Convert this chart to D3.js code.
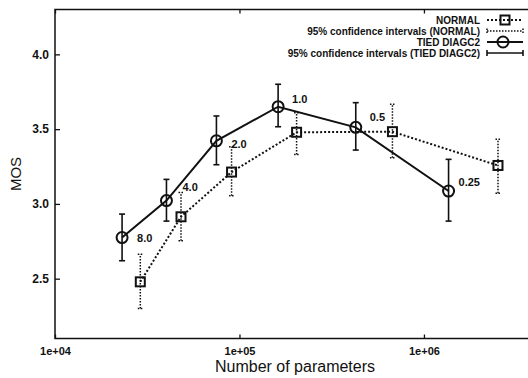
<!DOCTYPE html>
<html>
<head>
<meta charset="utf-8">
<script src="https://cdn.jsdelivr.net/npm/d3@7"></script>
<style>
  html, body { margin: 0; padding: 0; background: #fff; }
  svg { display: block; font-family: "Liberation Sans", Arial, sans-serif; }
</style>
</head>
<body>
<div id="chart"></div>
<script>
// data
const tiedX    = [2.31e4, 4.02e4, 7.5e4, 1.62e5, 4.27e5, 1.36e6];
const tiedMos  = [2.775, 3.022, 3.422, 3.650, 3.512, 3.086];
const tiedLow  = [2.620, 2.885, 3.262, 3.516, 3.360, 2.885];
const tiedHigh = [2.932, 3.164, 3.588, 3.800, 3.677, 3.298];

const normalX    = [2.90e4, 4.82e4, 9.06e4, 2.04e5, 6.75e5, 2.52e6];
const normalMos  = [2.479, 2.914, 3.213, 3.479, 3.483, 3.257];
const normalLow  = [2.300, 2.753, 3.055, 3.331, 3.309, 3.071];
const normalHigh = [2.663, 3.077, 3.382, 3.610, 3.666, 3.432];

const pointLabels = ["8.0", "4.0", "2.0", "1.0", "0.5", "0.25"];

const xTicks = [1e4, 1e5, 1e6];
const xTickLabels = ["1e+04", "1e+05", "1e+06"];
const yTicks = [2.5, 3.0, 3.5, 4.0];

const legendLabels = [
  "NORMAL",
  "95% confidence intervals (NORMAL)",
  "TIED DIAGC2",
  "95% confidence intervals (TIED DIAGC2)"
];

// label nudges in px, relative to the TIED point
const labelNudge = [[15, 4], [16, -10], [15, 7], [14, -4], [14, -6], [10, -5]];

const W = 528, H = 378;
const ink = "#111";

const svg = d3.select("#chart").append("svg")
  .attr("width", W)
  .attr("height", H);

// plot extends past the right edge of the picture (cropped like the scan)
const x = d3.scaleLog().domain([1e4, 4e6]).range([55, 535]);
const y = d3.scaleLinear().domain([2.1, 4.3]).range([338.5, 9.5]);

const zip = (xs, ms, lo, hi) => xs.map((v, i) => ({ x: v, m: ms[i], lo: lo[i], hi: hi[i], i }));
const tied = zip(tiedX, tiedMos, tiedLow, tiedHigh);
const normal = zip(normalX, normalMos, normalLow, normalHigh);

// axes
const yAxis = d3.axisLeft(y).tickValues(yTicks).tickFormat(d3.format(".1f"))
  .tickSizeInner(-5).tickSizeOuter(0).tickPadding(6);
const xAxis = d3.axisBottom(x).tickValues(xTicks).tickFormat((d, i) => xTickLabels[i])
  .tickSizeInner(-4).tickSizeOuter(0).tickPadding(9);
const xTop = d3.axisTop(x).tickValues(xTicks).tickFormat("")
  .tickSizeInner(-4).tickSizeOuter(0);

const gy = svg.append("g").attr("transform", `translate(${x.range()[0]},0)`).call(yAxis);
const gx = svg.append("g").attr("transform", `translate(0,${y.range()[0]})`).call(xAxis);
const gt = svg.append("g").attr("transform", `translate(0,${y.range()[1]})`).call(xTop);

[gy, gx, gt].forEach(g => {
  g.select(".domain").remove();
  g.selectAll(".tick line").attr("stroke", ink).attr("stroke-width", 1.3);
  g.selectAll(".tick text")
    .attr("fill", ink)
    .attr("font-size", "11px")
    .attr("font-weight", "bold")
    .attr("font-family", "'Liberation Sans', Arial, sans-serif");
});
gy.selectAll(".tick text").attr("font-size", "12px");

// frame
svg.append("rect")
  .attr("x", x.range()[0])
  .attr("y", y.range()[1])
  .attr("width", x.range()[1] - x.range()[0])
  .attr("height", y.range()[0] - y.range()[1])
  .attr("fill", "none")
  .attr("stroke", ink)
  .attr("stroke-width", 1.5);

// axis titles
svg.append("text")
  .attr("x", 295)
  .attr("y", 372)
  .attr("text-anchor", "middle")
  .attr("font-size", "16px")
  .attr("fill", ink)
  .text("Number of parameters");

svg.append("text")
  .attr("transform", `translate(21,${(y.range()[0] + y.range()[1]) / 2}) rotate(-90)`)
  .attr("text-anchor", "middle")
  .attr("font-size", "15px")
  .attr("fill", ink)
  .text("MOS");

const line = d3.line().x(d => x(d.x)).y(d => y(d.m));

// NORMAL: dotted line
svg.append("path")
  .datum(normal)
  .attr("d", line)
  .attr("fill", "none")
  .attr("stroke", ink)
  .attr("stroke-width", 2)
  .attr("stroke-dasharray", "2,2");

// TIED DIAGC2: solid line
svg.append("path")
  .datum(tied)
  .attr("d", line)
  .attr("fill", "none")
  .attr("stroke", ink)
  .attr("stroke-width", 2);

// error bars
const errorBars = (data, cap, dash, width) => {
  const g = svg.append("g")
    .attr("stroke", ink)
    .attr("stroke-width", width)
    .attr("stroke-dasharray", dash);
  g.selectAll("line.v").data(data).join("line")
    .attr("class", "v")
    .attr("x1", d => x(d.x)).attr("x2", d => x(d.x))
    .attr("y1", d => y(d.lo)).attr("y2", d => y(d.hi));
  ["lo", "hi"].forEach(k => {
    g.selectAll(`line.${k}`).data(data).join("line")
      .attr("class", k)
      .attr("x1", d => x(d.x) - cap).attr("x2", d => x(d.x) + cap)
      .attr("y1", d => y(d[k])).attr("y2", d => y(d[k]));
  });
};
errorBars(normal, 2.5, "1.5,1.5", 1.5);
errorBars(tied, 3, null, 1.6);

// markers
svg.append("g").selectAll("rect").data(normal).join("rect")
  .attr("x", d => x(d.x) - 4.5)
  .attr("y", d => y(d.m) - 4.5)
  .attr("width", 9)
  .attr("height", 9)
  .attr("fill", "none")
  .attr("stroke", ink)
  .attr("stroke-width", 2);

svg.append("g").selectAll("circle").data(tied).join("circle")
  .attr("cx", d => x(d.x))
  .attr("cy", d => y(d.m))
  .attr("r", 5.5)
  .attr("fill", "none")
  .attr("stroke", ink)
  .attr("stroke-width", 2);

// point labels
svg.append("g").selectAll("text").data(tied).join("text")
  .attr("x", d => x(d.x) + labelNudge[d.i][0])
  .attr("y", d => y(d.m) + labelNudge[d.i][1])
  .attr("font-size", "11px")
  .attr("font-weight", "bold")
  .attr("fill", ink)
  .text(d => pointLabels[d.i]);

// legend
const lg = svg.append("g");
const lx0 = 487, lx1 = 523, lxm = 505, rowY = i => 20 + i * 11;
lg.selectAll("text").data(legendLabels).join("text")
  .attr("x", 480)
  .attr("y", (d, i) => rowY(i) + 3.5)
  .attr("text-anchor", "end")
  .attr("font-size", "10px")
  .attr("font-weight", "bold")
  .attr("fill", ink)
  .text(d => d);

// row 0: NORMAL sample
lg.append("line").attr("x1", lx0).attr("x2", lx1).attr("y1", rowY(0)).attr("y2", rowY(0))
  .attr("stroke", ink).attr("stroke-width", 2).attr("stroke-dasharray", "2,2");
lg.append("rect").attr("x", lxm - 4.5).attr("y", rowY(0) - 4.5).attr("width", 9).attr("height", 9)
  .attr("fill", "none").attr("stroke", ink).attr("stroke-width", 2);

// row 1: NORMAL confidence intervals
lg.append("line").attr("x1", lx0).attr("x2", lx1).attr("y1", rowY(1)).attr("y2", rowY(1))
  .attr("stroke", ink).attr("stroke-width", 1.5).attr("stroke-dasharray", "1.5,1.5");
[lx0, lx1].forEach(cx => {
  lg.append("line").attr("x1", cx).attr("x2", cx).attr("y1", rowY(1) - 2.5).attr("y2", rowY(1) + 2.5)
    .attr("stroke", ink).attr("stroke-width", 1.5).attr("stroke-dasharray", "1.5,1.5");
});

// row 2: TIED DIAGC2 sample
lg.append("line").attr("x1", lx0).attr("x2", lx1).attr("y1", rowY(2)).attr("y2", rowY(2))
  .attr("stroke", ink).attr("stroke-width", 2);
lg.append("circle").attr("cx", lxm - 2).attr("cy", rowY(2)).attr("r", 5.5)
  .attr("fill", "none").attr("stroke", ink).attr("stroke-width", 2);

// row 3: TIED confidence intervals
lg.append("line").attr("x1", lx0).attr("x2", lx1).attr("y1", rowY(3)).attr("y2", rowY(3))
  .attr("stroke", ink).attr("stroke-width", 1.5);
[lx0, lx1].forEach(cx => {
  lg.append("line").attr("x1", cx).attr("x2", cx).attr("y1", rowY(3) - 3).attr("y2", rowY(3) + 3)
    .attr("stroke", ink).attr("stroke-width", 1.6);
});
</script>
</body>
</html>
